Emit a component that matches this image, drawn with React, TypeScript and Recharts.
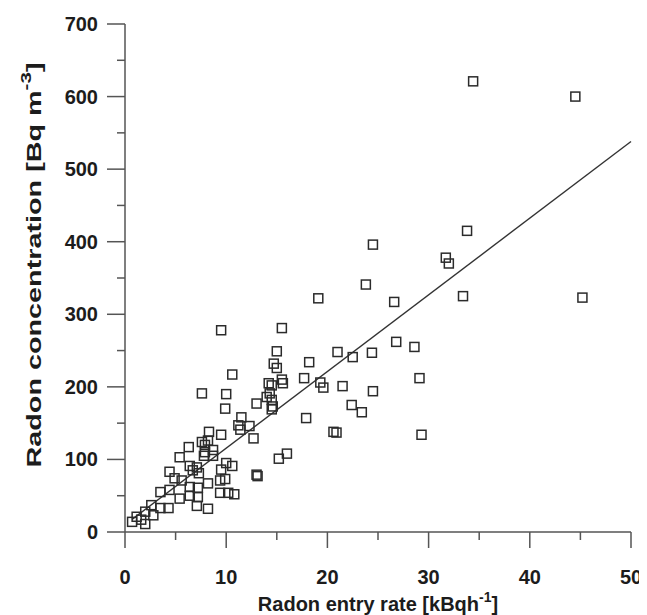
import { Label, ReferenceLine, Scatter, ScatterChart, XAxis, YAxis } from "recharts";

// entry rate [kBq/h], concentration [Bq/m3]
const entryRate = [
  34.4, 44.5, 45.2, 33.8, 24.5, 31.7, 32.0, 23.8, 26.6, 33.4, 19.1, 21.0, 22.5, 24.4, 26.8, 28.6, 29.1,
  18.2, 17.7, 19.3, 19.6, 21.5, 24.5, 22.4, 23.4, 17.9, 20.9, 29.3, 9.5, 15.5, 15.0, 14.7, 15.0, 10.6,
  15.5, 15.6, 14.2, 14.5, 7.6, 10.0, 14.3, 9.9, 11.5, 11.2, 11.4, 12.3, 12.7, 8.3, 9.5, 7.6, 7.9, 6.3,
  8.7, 7.9, 7.8, 8.7, 5.4, 10.0, 10.6, 6.4, 7.1, 6.7, 4.4, 7.3, 9.5, 9.9, 9.4, 4.9, 5.6, 8.2, 6.4, 7.2,
  3.5, 4.4, 9.4, 10.2, 10.8, 6.4, 7.2, 5.4, 2.6, 4.3, 7.1, 8.2, 3.5, 2.0, 2.8, 1.15, 1.6, 0.7, 2.0,
  13.0, 13.1, 15.2, 16.0, 14.0, 14.5, 13.0, 14.6, 14.5, 8.2, 20.6,
];
const concentration = [
  621, 600, 323, 415, 396, 378, 370, 341, 317, 325, 322, 248, 241, 247, 262, 255, 212,
  234, 212, 206, 199, 201, 194, 175, 165, 157, 137, 134, 278, 281, 249, 232, 226, 217,
  210, 205, 205, 202, 191, 190, 191, 170, 158, 147, 141, 146, 129, 138, 134, 124, 120, 117,
  113, 110, 105, 105, 103, 95, 91, 91, 89, 85, 83, 81, 86, 73, 71, 74, 71, 67, 62, 61,
  55, 58, 54, 54, 52, 50, 48, 46, 37, 33, 36, 32, 33, 28, 23, 21, 17, 14, 11,
  79, 77, 101, 108, 186, 182, 177, 173, 169, 126, 138,
];

const xTicks = [0, 5, 10, 15, 20, 25, 30, 35, 40, 45, 50];
const yTicks = [0, 50, 100, 150, 200, 250, 300, 350, 400, 450, 500, 550, 600, 650, 700];

// least-squares line as drawn in the figure
const fitX = [0.7, 50];
const fitY = [17.4, 538];

const points = entryRate.map((x, i) => ({ x, y: concentration[i] }));
const fitSegment = fitX.map((x, i) => ({ x, y: fitY[i] }));

const axisColor = "#555";
const textColor = "#1c1c1c";
const font = "'Liberation Sans', Arial, sans-serif";

function XTick({ x, y, payload }: any) {
  const major = payload.value % 10 === 0;
  return (
    <g>
      <line x1={x} x2={x} y1={y} y2={y + (major ? 16 : 8)} stroke={axisColor} strokeWidth={1.5} />
      {major && (
        <text x={x} y={y + 52} textAnchor="middle" fontFamily={font} fontWeight="bold" fontSize={20} fill={textColor}>
          {payload.value}
        </text>
      )}
    </g>
  );
}

function YTick({ x, y, payload }: any) {
  const major = payload.value % 100 === 0;
  return (
    <g>
      <line x1={x - (major ? 18 : 8)} x2={x} y1={y} y2={y} stroke={axisColor} strokeWidth={1.5} />
      {major && (
        <text x={x - 27} y={y + 7} textAnchor="end" fontFamily={font} fontWeight="bold" fontSize={20} fill={textColor}>
          {payload.value}
        </text>
      )}
    </g>
  );
}

function XTitle({ viewBox }: any) {
  const cx = viewBox.x + viewBox.width / 2;
  return (
    <text x={cx} y={viewBox.y + 79} textAnchor="middle" fontFamily={font} fontWeight="bold" fontSize={20} fill={textColor}>
      Radon entry rate [kBqh
      <tspan fontSize={14} dy={-9}>-1</tspan>
      <tspan dy={9}>]</tspan>
    </text>
  );
}

// the y title is drawn stretched along its length in the original
function YTitle() {
  const x = 33;
  const y = 257;
  return (
    <text
      x={x}
      y={y}
      transform={`rotate(-90, ${x}, ${y})`}
      textAnchor="middle"
      fontFamily={font}
      fontWeight="bold"
      fontSize={21}
      textLength={405}
      lengthAdjust="spacingAndGlyphs"
      fill={textColor}
    >
      Radon concentration [Bq m
      <tspan fontSize={15} dy={-10}>-3</tspan>
      <tspan dy={10}>]</tspan>
    </text>
  );
}

function Square({ cx, cy }: any) {
  return <rect x={cx - 4.5} y={cy - 4.5} width={9} height={9} fill="none" stroke="#2b2b2b" strokeWidth={1.5} />;
}

export default function App() {
  return (
    <div style={{ width: 639, height: 607, background: "#fff" }}>
      <ScatterChart width={639} height={607} margin={{ top: 16, right: 16, left: 0, bottom: 23 }}>
        <XAxis
          type="number"
          dataKey="x"
          domain={[0, 50]}
          ticks={xTicks}
          interval={0}
          height={60}
          tickSize={0}
          tickMargin={0}
          tick={<XTick />}
          axisLine={{ stroke: axisColor, strokeWidth: 1.5 }}
        >
          <Label content={<XTitle />} />
        </XAxis>
        <YAxis
          type="number"
          dataKey="y"
          domain={[0, 700]}
          ticks={yTicks}
          interval={0}
          width={117}
          tickSize={0}
          tickMargin={0}
          tick={<YTick />}
          axisLine={{ stroke: axisColor, strokeWidth: 1.5 }}
        >
          <Label content={<YTitle />} />
        </YAxis>
        <ReferenceLine segment={fitSegment} stroke="#333" strokeWidth={1.4} />
        <Scatter data={points} shape={<Square />} isAnimationActive={false} />
      </ScatterChart>
    </div>
  );
}
